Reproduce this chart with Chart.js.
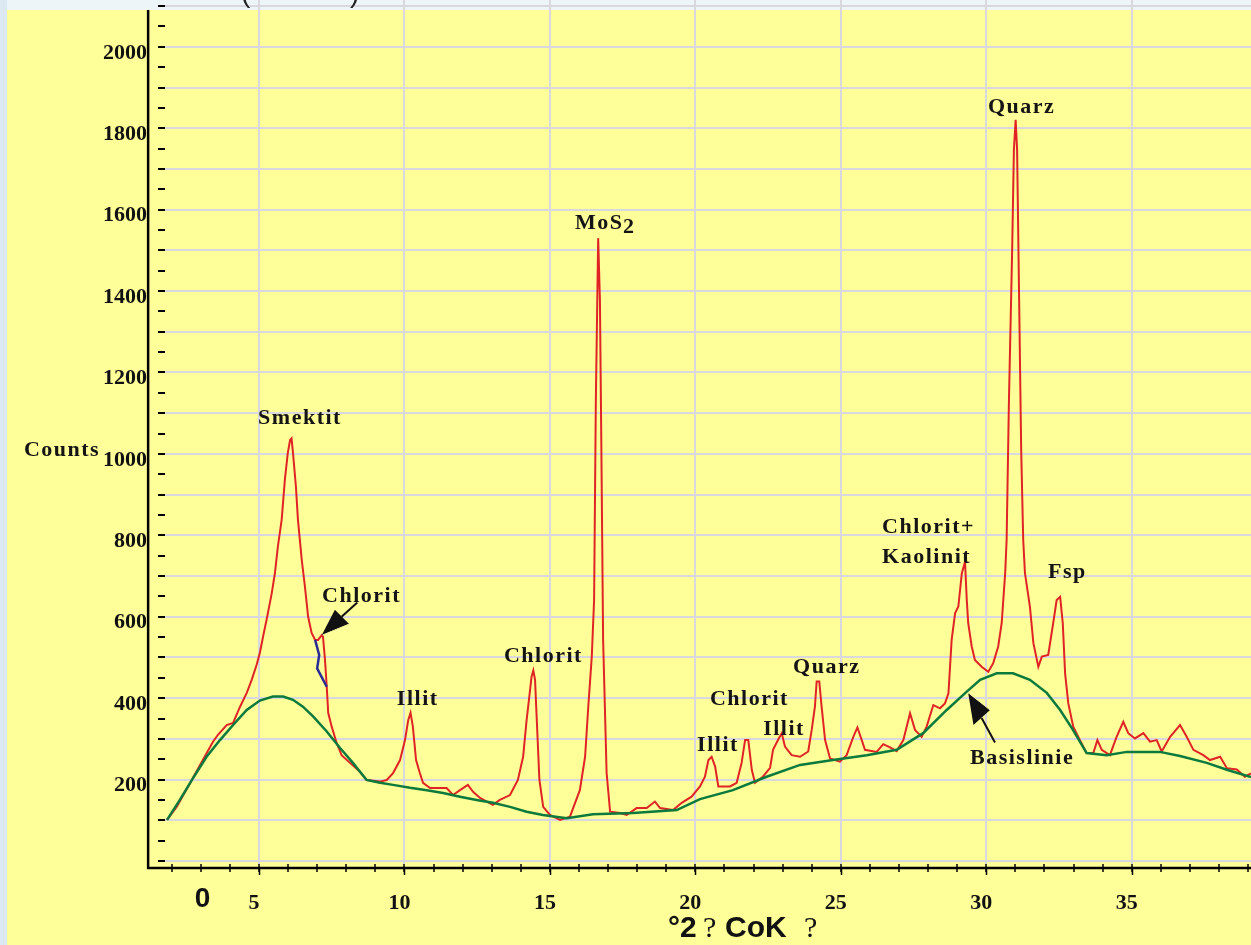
<!DOCTYPE html>
<html>
<head>
<meta charset="utf-8">
<script src="https://cdn.jsdelivr.net/npm/chart.js@4.4.1/dist/chart.umd.min.js"></script>
<style>
  html, body { margin: 0; padding: 0; background: #eef5f9; overflow: hidden; }
  canvas { display: block; }
</style>
</head>
<body>
<canvas id="xrd" width="1251" height="945"></canvas>
<script>
// diffractogram (red): degrees 2-theta and counts
const patternTheta = [
  1.84, 2.17, 2.73, 3.07, 3.42, 3.59, 3.89, 4.11, 4.35, 4.58,
  4.75, 4.92, 5.03, 5.14, 5.26, 5.44, 5.55, 5.65, 5.78, 5.89,
  5.99, 6.07, 6.12, 6.17, 6.27, 6.34, 6.47, 6.58, 6.69, 6.81,
  6.93, 7.03, 7.16, 7.20, 7.27, 7.33, 7.38, 7.50, 7.67, 7.84,
  8.13, 8.47, 8.70, 9.16, 9.39, 9.61, 9.85, 10.02, 10.13, 10.21,
  10.29, 10.40, 10.53, 10.64, 10.88, 11.45, 11.67, 11.91, 12.18, 12.36,
  12.60, 12.83, 13.04, 13.28, 13.63, 13.90, 14.08, 14.20, 14.28, 14.37,
  14.43, 14.49, 14.55, 14.64, 14.77, 15.00, 15.35, 15.69, 16.03, 16.21,
  16.32, 16.44, 16.52, 16.58, 16.66, 16.72, 16.77, 16.83, 16.89, 16.95,
  17.07, 17.41, 17.64, 17.98, 18.33, 18.61, 18.79, 19.23, 19.53, 19.87,
  20.16, 20.33, 20.45, 20.56, 20.68, 20.79, 21.19, 21.42, 21.59, 21.71,
  21.82, 21.94, 22.05, 22.32, 22.57, 22.67, 22.84, 22.97, 23.08, 23.31,
  23.60, 23.88, 24.00, 24.11, 24.17, 24.26, 24.34, 24.46, 24.63, 24.97,
  25.20, 25.43, 25.57, 25.72, 25.83, 26.23, 26.46, 26.69, 26.92, 27.15,
  27.38, 27.55, 27.78, 27.95, 28.18, 28.41, 28.58, 28.70, 28.81, 28.93,
  29.04, 29.16, 29.27, 29.33, 29.38, 29.50, 29.61, 29.84, 30.07, 30.24,
  30.41, 30.53, 30.65, 30.70, 30.78, 30.89, 30.95, 31.01, 31.06, 31.13,
  31.20, 31.27, 31.33, 31.50, 31.62, 31.79, 31.91, 32.13, 32.30, 32.42,
  32.54, 32.63, 32.71, 32.82, 32.99, 33.22, 33.45, 33.68, 33.82, 33.97,
  34.25, 34.48, 34.71, 34.88, 35.11, 35.40, 35.63, 35.86, 36.03, 36.32,
  36.66, 36.89, 37.12, 37.46, 37.69, 38.04, 38.27, 38.61, 38.89, 39.10
];
const patternCounts = [
  101, 133, 204, 248, 293, 310, 334, 339, 379, 413,
  445, 482, 511, 551, 592, 658, 708, 772, 838, 936,
  1002, 1034, 1038, 1002, 920, 838, 740, 674, 600, 560,
  543, 543, 555, 551, 494, 428, 364, 330, 290, 260,
  241, 219, 199, 195, 199, 216, 248, 297, 346, 364,
  330, 248, 216, 192, 179, 179, 162, 174, 187, 170,
  155, 146, 138, 150, 162, 199, 256, 346, 396, 453,
  468, 445, 346, 199, 133, 113, 101, 109, 174, 256,
  379, 502, 641, 1133, 1530, 1378, 1010, 543, 379, 216,
  121, 118, 113, 130, 130, 146, 130, 125, 143, 158,
  183, 207, 248, 256, 232, 183, 183, 192, 241, 297,
  297, 224, 192, 207, 229, 273, 297, 314, 281, 260,
  256, 269, 322, 379, 441, 441, 379, 297, 252, 244,
  260, 305, 328, 297, 273, 268, 287, 279, 270, 297,
  363, 322, 305, 330, 383, 375, 387, 412, 543, 609,
  625, 707, 735, 641, 584, 527, 494, 477, 465, 486,
  527, 584, 707, 789, 1133, 1501, 1747, 1821, 1747, 1378,
  1010, 789, 707, 625, 535, 477, 502, 506, 584, 641,
  649, 584, 461, 387, 330, 297, 265, 265, 297, 273,
  260, 305, 342, 314, 301, 314, 293, 297, 269, 305,
  334, 305, 273, 260, 248, 256, 228, 225, 207, 215
];

// baseline (green)
const baseTheta = [
  1.84, 2.28, 2.74, 3.20, 3.66, 4.11, 4.58, 5.03, 5.48, 5.83,
  6.17, 6.51, 6.86, 7.33, 7.78, 8.23, 8.70, 9.16, 9.61, 10.19,
  10.77, 11.33, 11.91, 12.48, 13.04, 13.63, 14.20, 14.76, 15.58, 16.48,
  17.86, 19.36, 20.16, 21.29, 22.45, 23.60, 24.73, 25.89, 26.92, 27.83,
  28.64, 29.33, 29.79, 30.36, 30.92, 31.50, 32.08, 32.54, 32.98, 33.45,
  34.14, 34.83, 35.97, 36.66, 37.58, 38.27, 39.10
];
const baseCounts = [
  101, 150, 204, 256, 297, 334, 371, 394, 404, 404,
  396, 379, 355, 318, 278, 241, 199, 192, 187, 180,
  174, 167, 158, 150, 143, 133, 121, 113, 105, 115,
  118, 125, 152, 174, 207, 236, 248, 260, 273, 314,
  371, 416, 445, 461, 461, 445, 413, 371, 322, 265,
  260, 268, 268, 258, 241, 224, 206
];

// small chlorite shoulder (blue)
const chloritTheta = [6.93, 7.07, 7.00, 7.33];
const chloritCounts = [543, 506, 473, 428];

// tick labels
const xTickValues = [5, 10, 15, 20, 25, 30, 35];
const xTickLabels = ['5', '10', '15', '20', '25', '30', '35'];
const yTickValues = [200, 400, 600, 800, 1000, 1200, 1400, 1600, 1800, 2000];
const yTickLabels = ['200', '400', '600', '800', '1000', '1200', '1400', '1600', '1800', '2000'];

// peak names: left end of the text, on its baseline
const labelTexts = ['Smektit', 'Chlorit', 'Illit', 'Chlorit', 'MoS', '2', 'Illit', 'Chlorit',
  'Illit', 'Quarz', 'Chlorit+', 'Kaolinit', 'Quarz', 'Fsp', 'Basislinie'];
const labelTheta = [4.97, 7.17, 9.74, 13.42, 15.86, 17.51, 20.06, 20.50,
  22.33, 23.36, 26.42, 26.42, 30.06, 32.12, 29.44];
const labelCounts = [1074, 636, 383, 489, 1553, 1543, 270, 383,
  310, 462, 806, 732, 1838, 695, 238];

const arrows = [
  { tip: [7.16, 555], wings: [[7.61, 617], [8.10, 582]], tail: [[7.84, 600], [8.38, 635]] },
  { tip: [29.38, 412], wings: [[29.56, 334], [30.13, 371]], tail: [[29.84, 351], [30.30, 291]] }
];

const SERIF = "'Liberation Serif', 'Times New Roman', serif";
const SANS = "'Liberation Sans', Arial, sans-serif";
const GRID = '#d8d8de';

function toXY(theta, counts) {
  return theta.map((t, i) => ({ x: t, y: counts[i] }));
}

function pos(chart, t, c) {
  return [chart.scales.x.getPixelForValue(t), chart.scales.y.getPixelForValue(c)];
}

const decor = {
  id: 'decor',
  beforeDraw(chart) {
    const c = chart.ctx;
    c.save();
    c.fillStyle = '#eef5f9';
    c.fillRect(0, 0, chart.width, chart.height);
    c.fillStyle = '#dde9f2';
    c.fillRect(0, 0, 7, chart.height);
    c.fillStyle = '#ffff99';
    c.fillRect(7, 10, chart.width - 7, chart.height - 10);
    c.restore();
  },
  afterDraw(chart) {
    const c = chart.ctx;
    const xs = chart.scales.x, ys = chart.scales.y;
    c.save();

    // axis lines
    const ax = xs.getPixelForValue(1.19);
    const ay = ys.getPixelForValue(-17);
    c.strokeStyle = '#000';
    c.lineWidth = 2.5;
    c.beginPath();
    c.moveTo(ax, 10);
    c.lineTo(ax, ay + 1);
    c.moveTo(ax - 1, ay);
    c.lineTo(chart.width, ay);
    c.stroke();
    // longer major ticks
    c.lineWidth = 1.5;
    c.beginPath();
    xTickValues.forEach(v => {
      const x = Math.round(xs.getPixelForValue(v)) + 0.5;
      c.moveTo(x, ay);
      c.lineTo(x, ay + 7);
    });
    c.stroke();

    // stray "0" under the axis
    c.fillStyle = '#111';
    c.font = 'bold 28px ' + SANS;
    c.textAlign = 'center';
    c.textBaseline = 'alphabetic';
    c.fillText('0', xs.getPixelForValue(3.06), 907);

    // axis title
    c.textAlign = 'left';
    c.font = 'bold 30px ' + SANS;
    c.fillText('°2', 668, 937);
    c.fillText('CoK', 725, 937);
    c.font = '30px ' + SERIF;
    c.fillText('?', 703, 937);
    c.fillText('?', 804, 937);

    // bottom of the cut-off title
    c.font = '28px ' + SANS;
    c.fillStyle = '#222';
    c.fillText('(', 241, 2);
    c.fillText(')', 350, 2);

    // "Counts"
    c.fillStyle = '#141414';
    c.font = 'bold 22px ' + SERIF;
    c.letterSpacing = '1.5px';
    let p = pos(chart, -3.08, 995);
    c.fillText('Counts', p[0], p[1]);

    // peak names
    labelTexts.forEach((s, i) => {
      const q = pos(chart, labelTheta[i], labelCounts[i]);
      c.fillText(s, q[0], q[1]);
    });
    c.letterSpacing = '0px';

    // arrows
    arrows.forEach(a => {
      const t = pos(chart, a.tip[0], a.tip[1]);
      const w1 = pos(chart, a.wings[0][0], a.wings[0][1]);
      const w2 = pos(chart, a.wings[1][0], a.wings[1][1]);
      const s0 = pos(chart, a.tail[0][0], a.tail[0][1]);
      const s1 = pos(chart, a.tail[1][0], a.tail[1][1]);
      c.strokeStyle = '#111';
      c.lineWidth = 2;
      c.beginPath();
      c.moveTo(s0[0], s0[1]);
      c.lineTo(s1[0], s1[1]);
      c.stroke();
      c.fillStyle = '#111';
      c.beginPath();
      c.moveTo(t[0], t[1]);
      c.lineTo(w1[0], w1[1]);
      c.lineTo(w2[0], w2[1]);
      c.closePath();
      c.fill();
      c.strokeStyle = '#f4f0a0';
      c.lineWidth = 1;
      c.beginPath();
      c.moveTo(t[0] + 1, t[1]);
      c.lineTo(w2[0], w2[1]);
      c.stroke();
    });

    c.restore();
  }
};

const ctx = document.getElementById('xrd').getContext('2d');
new Chart(ctx, {
  type: 'line',
  data: {
    datasets: [
      {
        label: 'Chlorit',
        data: toXY(chloritTheta, chloritCounts),
        borderColor: '#2b2b96',
        borderWidth: 2.5,
        pointRadius: 0
      },
      {
        label: 'Basislinie',
        data: toXY(baseTheta, baseCounts),
        borderColor: '#0b7a3c',
        borderWidth: 2.5,
        pointRadius: 0
      },
      {
        label: 'Counts',
        data: toXY(patternTheta, patternCounts),
        borderColor: '#e02424',
        borderWidth: 2,
        pointRadius: 0
      }
    ]
  },
  options: {
    responsive: false,
    animation: false,
    devicePixelRatio: 1,
    layout: { padding: 0 },
    plugins: {
      legend: { display: false },
      tooltip: { enabled: false }
    },
    elements: { line: { tension: 0 } },
    scales: {
      x: {
        type: 'linear',
        min: 1.77,
        max: 39.1,
        afterFit(s) {
          s.height = 81;
          s.paddingLeft = 0;
          s.paddingRight = 0;
        },
        border: { display: false },
        grid: {
          color: g => (g.tick && g.tick.value % 5 === 0) ? GRID : 'rgba(0,0,0,0)',
          lineWidth: 2,
          tickColor: '#000',
          tickWidth: 1.5,
          tickLength: 8
        },
        ticks: {
          stepSize: 1,
          includeBounds: false,
          autoSkip: false,
          maxRotation: 0,
          minRotation: 0,
          padding: 18,
          labelOffset: -5,
          color: '#111',
          font: { family: SERIF, size: 22, weight: 'bold' },
          callback: v => {
            const i = xTickValues.indexOf(v);
            return i >= 0 ? xTickLabels[i] : '';
          }
        }
      },
      y: {
        min: -7.4,
        max: 2115,
        afterFit(s) {
          s.width = 165;
          s.paddingTop = 0;
          s.paddingBottom = 0;
        },
        border: { display: false },
        grid: {
          color: g => (g.tick && g.tick.value % 100 === 0) ? GRID : 'rgba(0,0,0,0)',
          lineWidth: 2,
          tickColor: '#000',
          tickWidth: 2,
          tickLength: 7
        },
        ticks: {
          stepSize: 50,
          includeBounds: false,
          autoSkip: false,
          padding: 11,
          labelOffset: 6,
          color: '#111',
          font: { family: SERIF, size: 22, weight: 'bold' },
          callback: v => {
            const i = yTickValues.indexOf(v);
            return i >= 0 ? yTickLabels[i] : '';
          }
        }
      }
    }
  },
  plugins: [decor]
});
</script>
</body>
</html>
